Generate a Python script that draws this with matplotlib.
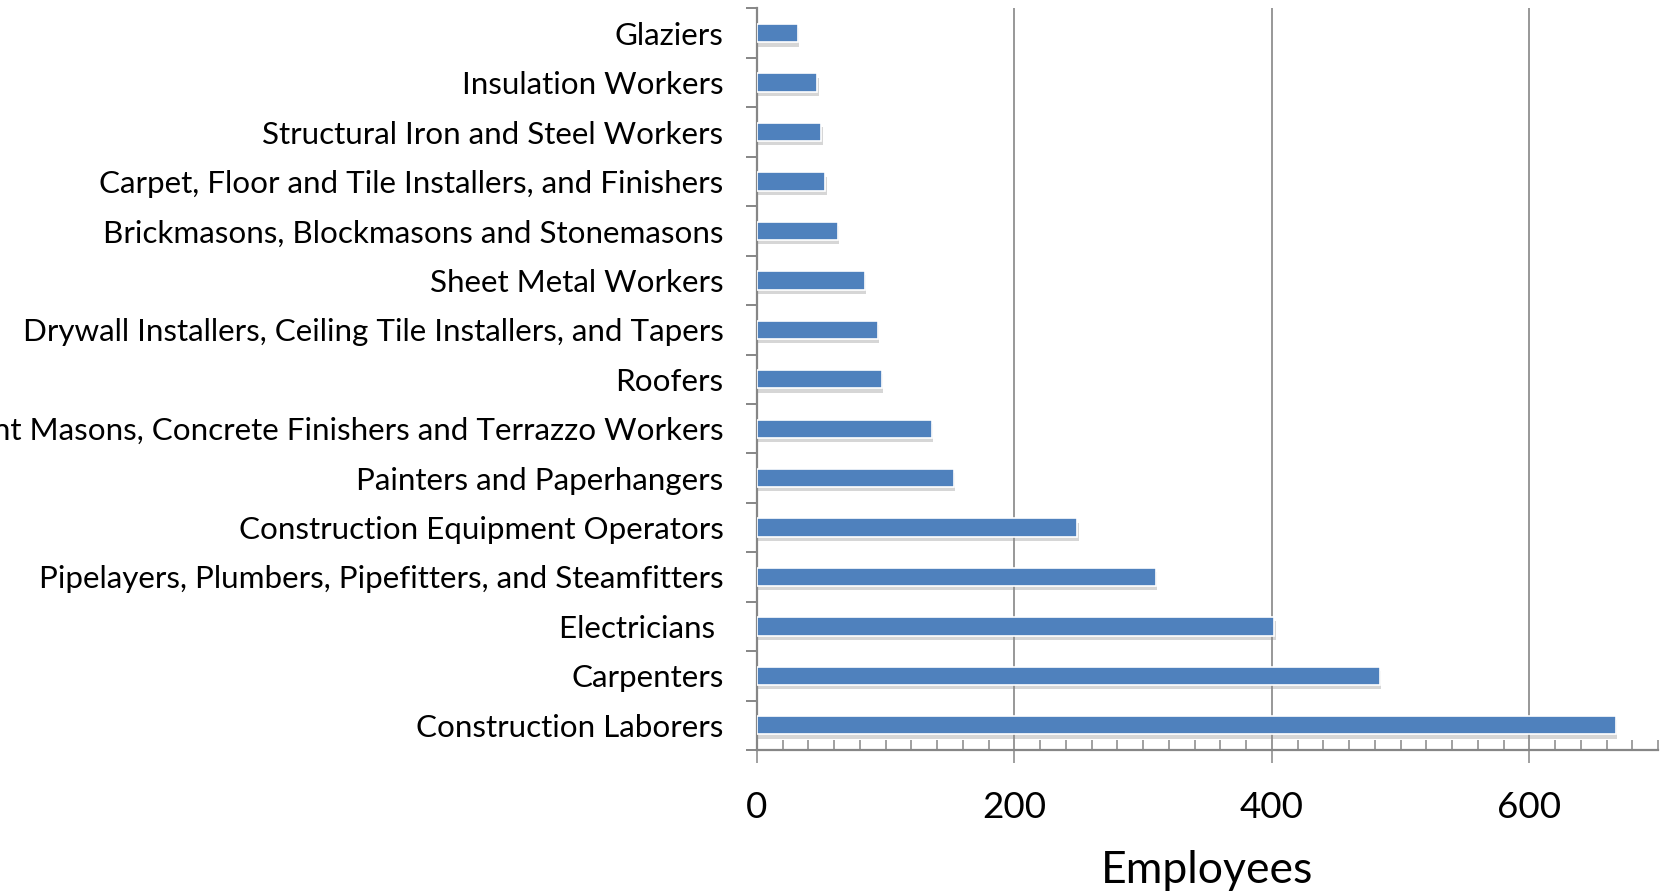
import matplotlib
matplotlib.use("Agg")
import matplotlib.pyplot as plt
import matplotlib.patheffects as pe
from matplotlib.ticker import MultipleLocator
import numpy as np

# occupations, top of the chart first
occupations = [
    "Glaziers",
    "Insulation Workers",
    "Structural Iron and Steel Workers",
    "Carpet, Floor and Tile Installers, and Finishers",
    "Brickmasons, Blockmasons and Stonemasons",
    "Sheet Metal Workers",
    "Drywall Installers, Ceiling Tile Installers, and Tapers",
    "Roofers",
    "Cement Masons, Concrete Finishers and Terrazzo Workers",
    "Painters and Paperhangers",
    "Construction Equipment Operators",
    "Pipelayers, Plumbers, Pipefitters, and Steamfitters",
    "Electricians ",
    "Carpenters",
    "Construction Laborers",
]
employees = [32, 47, 50, 53, 63, 84, 94, 97, 136, 153, 249, 310, 402, 484, 667]

plt.rcParams['font.family'] = ['Lato', 'DejaVu Sans']
GRAY = '#868686'
BLUE = '#4F81BD'

fig = plt.figure(figsize=(16.61, 8.92), dpi=100)
ax = fig.add_axes([0.4557, 0.1592, 0.5425, 0.8313])

ypos = np.arange(len(occupations))
bars = ax.barh(ypos, employees, height=0.37, color=BLUE,
               edgecolor='white', linewidth=1.2, zorder=3)
for b in bars:
    b.set_path_effects([pe.SimplePatchShadow(offset=(1, -3), shadow_rgbFace='#8c8c8c', alpha=0.35),
                        pe.Normal()])

ax.set_xlim(0, 700)
ax.set_ylim(len(occupations) - 0.5, -0.5)

# x axis: majors every 200 pointing out, minors every 20 pointing in
ax.xaxis.set_major_locator(MultipleLocator(200))
ax.xaxis.set_minor_locator(MultipleLocator(20))
ax.tick_params(axis='x', which='major', direction='out', length=9.5, width=1.1,
               color=GRAY, labelsize=26.5, pad=20)
ax.tick_params(axis='x', which='minor', direction='in', length=7, width=1.1, color=GRAY)
ax.grid(axis='x', which='major', color=GRAY, linewidth=1.2, zorder=0)

# y axis: labels at the centres, tick marks between categories
ax.set_yticks(ypos)
ax.set_yticklabels(occupations)
ax.set_yticks(np.arange(len(occupations) + 1) - 0.5, minor=True)
ax.tick_params(axis='y', which='major', length=0, labelsize=22.6, pad=24)
ax.tick_params(axis='y', which='minor', direction='out', length=8, width=1.4, color=GRAY)

for side in ('top', 'right'):
    ax.spines[side].set_visible(False)
for side in ('left', 'bottom'):
    ax.spines[side].set_color(GRAY)
    ax.spines[side].set_linewidth(1.6)

ax.set_xlabel("Employees", fontsize=32, labelpad=19)

fig.savefig("out.png", dpi=100)
